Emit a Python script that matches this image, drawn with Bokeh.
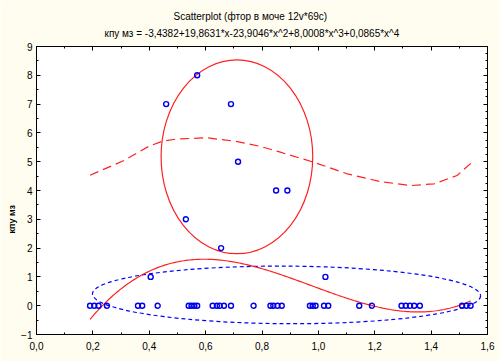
import numpy as np
from bokeh.plotting import figure
from bokeh.models import (Range1d, LinearAxis, SingleIntervalTicker,
                          CustomJSTickFormatter, Title)
from bokeh.embed import file_html
from bokeh.resources import INLINE

# ---------------- data ----------------
x_zero = [0.19, 0.205, 0.22, 0.25, 0.36, 0.375, 0.43, 0.54, 0.55, 0.56, 0.57,
          0.625, 0.64, 0.65, 0.665, 0.69, 0.77, 0.83, 0.84, 0.855, 0.87,
          0.97, 0.98, 0.99, 1.02, 1.035, 1.145, 1.19, 1.295, 1.31, 1.325,
          1.34, 1.36, 1.51, 1.525, 1.54]
y_zero = [0] * len(x_zero)
x_one = [0.405, 1.025]
y_one = [1, 1]
x_upper = [0.46, 0.57, 0.69, 0.715, 0.85, 0.89, 0.53, 0.655]
y_upper = [7, 8, 7, 5, 4, 4, 3, 2]

xs = x_zero + x_one + x_upper
ys = y_zero + y_one + y_upper

# polynomial fit shown in the title (coefficients of x^0..x^4)
fit_coef = [-3.4382, 19.8631, -23.9046, 8.0008, 0.0865]

# red dashed curve
dash_x = [0.19, 0.31, 0.398, 0.446, 0.499, 0.605, 0.712, 0.795, 0.865,
          0.984, 1.102, 1.22, 1.327, 1.41, 1.492, 1.545]
dash_y = [4.53, 5.04, 5.53, 5.71, 5.79, 5.83, 5.70, 5.53, 5.33,
          4.98, 4.58, 4.31, 4.17, 4.23, 4.52, 4.98]

# ellipses: center x, center y, width, height, angle
red_ell = dict(x=0.711, y=5.17, w=0.538, h=6.73, a=0.0)
blue_ell = dict(x=0.887, y=0.375, w=1.377, h=2.0, a=-0.005)

x_ticks_interval = 0.2
y_ticks_interval = 1

title1 = "Scatterplot (фтор в моче  12v*69c)"
title2 = "кпу мз = -3,4382+19,8631*x-23,9046*x^2+8,0008*x^3+0,0865*x^4"
ylabel = "кпу мз"

CREAM = "#FFFCF0"
FONT = "Liberation Sans"

p = figure(width=500, height=361, x_range=Range1d(0, 1.6), y_range=Range1d(-1, 9),
           output_backend="svg", toolbar_location=None,
           min_border_left=36, min_border_right=13, min_border_top=46, min_border_bottom=27,
           background_fill_color="white", border_fill_color=CREAM,
           outline_line_color="black", x_axis_type=None, y_axis_type=None)

fmt = CustomJSTickFormatter(code="return tick.toFixed(1).replace('.', ',');")

def style_axis(ax, labels=True):
    ax.axis_line_color = "black"
    ax.major_tick_in = 4
    ax.major_tick_out = 0
    ax.minor_tick_in = 2
    ax.minor_tick_out = 0
    ax.major_tick_line_color = "black"
    ax.minor_tick_line_color = "black"
    if labels:
        ax.major_label_text_font = FONT
        ax.major_label_text_font_size = "10px"
        ax.major_label_text_color = "black"
    else:
        ax.major_label_text_font_size = "1px"
        ax.major_label_text_color = None
        ax.major_label_standoff = 0

xb = LinearAxis(ticker=SingleIntervalTicker(interval=x_ticks_interval, num_minor_ticks=2), formatter=fmt)
style_axis(xb)
xb.major_label_standoff = 7
p.add_layout(xb, "below")

xt = LinearAxis(ticker=SingleIntervalTicker(interval=x_ticks_interval, num_minor_ticks=2), formatter=fmt)
style_axis(xt, labels=False)
p.add_layout(xt, "above")

yl = LinearAxis(ticker=SingleIntervalTicker(interval=y_ticks_interval, num_minor_ticks=2))
style_axis(yl)
yl.major_label_standoff = 4
p.add_layout(yl, "left")

yr = LinearAxis(ticker=SingleIntervalTicker(interval=y_ticks_interval, num_minor_ticks=4))
style_axis(yr, labels=False)
p.add_layout(yr, "right")

# titles (line 2 closest to the plot)
p.add_layout(Title(text=title2, align="left", offset=68, vertical_align="top", standoff=12,
                   text_font=FONT, text_font_size="10px", text_font_style="normal",
                   text_color="black"), "above")
p.add_layout(Title(text=title1, align="left", offset=137, vertical_align="bottom", standoff=0,
                   text_font=FONT, text_font_size="10px", text_font_style="normal",
                   text_color="black"), "above")
# y-axis label, placed a little below the middle as in the reference
p.add_layout(Title(text=ylabel, align="left", offset=101, vertical_align="middle", standoff=2,
                   text_font=FONT, text_font_size="9px", text_font_style="bold",
                   text_color="black"), "left")

p.xgrid.ticker = xb.ticker
p.ygrid.ticker = yl.ticker
for g in (p.xgrid, p.ygrid):
    g.grid_line_color = "#B0B0B0"
    g.grid_line_dash = "1 2"
    g.grid_line_width = 1

# blue dashed ellipse
p.ellipse(x=[blue_ell["x"]], y=[blue_ell["y"]], width=[blue_ell["w"]], height=[blue_ell["h"]],
          angle=[blue_ell["a"]], fill_color=None, line_color="#0000FF",
          line_dash="4 3", line_width=1.2)
# red ellipse
p.ellipse(x=[red_ell["x"]], y=[red_ell["y"]], width=[red_ell["w"]], height=[red_ell["h"]],
          angle=[red_ell["a"]], fill_color=None, line_color="#FF2020", line_width=1.2)

# polynomial fit
fx = np.linspace(min(xs), max(xs), 200)
fy = sum(c * fx ** i for i, c in enumerate(fit_coef))
p.line(fx, fy, line_color="#FF2020", line_width=1.2)

# red dashed curve
p.line(dash_x, dash_y, line_color="#FF2020", line_width=1.2, line_dash="9 5")

# points
p.scatter(xs, ys, marker="circle", size=5, fill_color=None, line_color="#0000EE", line_width=1.4)

html = file_html(p, INLINE)
html = html.replace("<body>", '<body style="margin:0;overflow:hidden;background-color:%s;">' % CREAM, 1)
open("out.html", "w").write(html)
